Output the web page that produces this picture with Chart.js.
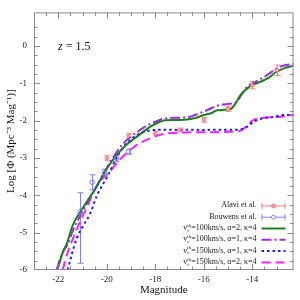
<!DOCTYPE html>
<html><head><meta charset="utf-8">
<script src="https://cdn.jsdelivr.net/npm/chart.js@4/dist/chart.umd.min.js"></script>
<style>html,body{margin:0;padding:0;background:#fff}</style>
</head><body>
<canvas id="c" width="300" height="300" style="width:300px;height:300px"></canvas>
<script>
// ---- data ----
const greenMag = [-22.03,-21.9,-21.8,-21.65,-21.4,-21.0,-20.7,-20.4,-20.2,-19.75,-19.2,-18.8,-18.5,-18.2,-17.8,-17.6,-17.0,-16.7,-16.3,-16.0,-15.7,-15.45,-14.9,-14.7,-14.5,-14.1,-13.7,-13.3,-13.05,-12.7,-12.3];
const greenPhi = [-6,-5.7,-5.5,-5.3,-4.8,-4.35,-4.05,-3.75,-3.5,-3.05,-2.65,-2.45,-2.3,-2.16,-2.03,-1.99,-1.98,-1.97,-1.92,-1.85,-1.8,-1.72,-1.69,-1.55,-1.33,-1.08,-0.97,-0.84,-0.71,-0.6,-0.53];
const purpleMag = [-22.07,-21.9,-21.75,-21.6,-21.4,-21.1,-20.8,-20.5,-20.2,-19.8,-19.3,-18.8,-18.4,-18.0,-17.6,-17.0,-16.5,-16.1,-15.8,-15.45,-15.0,-14.65,-14.4,-14.2,-13.9,-13.65,-13.3,-13.0,-12.7,-12.3];
const purplePhi = [-6,-5.65,-5.45,-5.3,-4.95,-4.55,-4.2,-3.85,-3.5,-3.05,-2.6,-2.33,-2.15,-2.03,-1.94,-1.92,-1.88,-1.78,-1.7,-1.6,-1.55,-1.5,-1.25,-1.08,-0.98,-0.88,-0.74,-0.6,-0.52,-0.48];
const blueMag = [-21.61,-21.45,-21.24,-20.97,-20.69,-20.41,-20.2,-19.93,-19.6,-19.31,-19.0,-18.62,-18.3,-18.07,-17.5,-17.0,-16.5,-16.0,-15.5,-15.0,-14.56,-14.21,-13.94,-13.6,-13.12,-12.7,-12.3];
const bluePhi = [-6,-5.6,-5.16,-4.81,-4.5,-4.01,-3.75,-3.44,-3.0,-2.7,-2.5,-2.34,-2.27,-2.25,-2.24,-2.25,-2.24,-2.25,-2.24,-2.24,-2.24,-2.16,-2.03,-1.94,-1.9,-1.85,-1.85];
const magentaMag = [-21.82,-21.65,-21.45,-21.2,-20.9,-20.41,-20.1,-19.86,-19.4,-18.76,-18.21,-17.8,-17.52,-17.0,-16.5,-16.0,-15.5,-15.0,-14.7,-14.42,-14.21,-13.94,-13.53,-12.97,-12.3];
const magentaPhi = [-6,-5.6,-5.25,-4.85,-4.43,-3.75,-3.5,-3.35,-3.0,-2.65,-2.47,-2.38,-2.34,-2.32,-2.31,-2.31,-2.31,-2.3,-2.29,-2.25,-2.12,-1.98,-1.92,-1.9,-1.85];

const alaviMag = [-20.0,-19.1,-18.0,-17.0,-16.0,-15.0,-14.0,-13.0];
const alaviPhi = [-3.0,-2.4,-2.33,-2.25,-1.98,-1.68,-1.05,-0.65];
const alaviErr = [0.06,0.06,0.05,0.05,0.06,0.07,0.1,0.14];
const bouwensMag = [-21.1,-20.6,-20.1,-19.6,-19.1];
const bouwensPhi = [-4.44,-3.65,-3.4,-3.02,-2.83];
const bouwensErrUp = [0.51,0.2,0.1,0.08,0.07];
const bouwensErrDn = [1.38,0.2,0.1,0.08,0.07];

const xTickStep = 0.5, xLabelStep = 2;
const yTickStep = 0.25, yLabelStep = 1;
const legendLabels = ['Alavi et al.','Bouwens et al.',
  ['100km/s, \u03b1=2, \u03ba=4'],['100km/s, \u03b1=1, \u03ba=4'],['150km/s, \u03b1=1, \u03ba=4'],['150km/s, \u03b1=2, \u03ba=4']];

const pts = (xs, ys) => xs.map((x, i) => ({x, y: ys[i]}));
const SERIF = 'Liberation Serif';

const curveDS = (label, xs, ys, color, dash, order) => ({
  label, data: pts(xs, ys), showLine: true, borderColor: color, backgroundColor: color,
  borderWidth: 2, borderDash: dash, pointRadius: 0, cubicInterpolationMode: 'monotone', order
});

const datasets = [
  {label:'Alavi et al.', data: pts(alaviMag, alaviPhi), errUp: alaviErr, errDn: alaviErr,
   pointStyle:'circle', pointRadius: 1.8, backgroundColor:'#f8a0a0', borderColor:'#f58080', borderWidth:1, showLine:false, order:0},
  {label:'Bouwens et al.', data: pts(bouwensMag, bouwensPhi), errUp: bouwensErrUp, errDn: bouwensErrDn,
   pointStyle:'circle', pointRadius: 2.3, backgroundColor:'rgba(255,255,255,0)', borderColor:'#8080f0', borderWidth:1, showLine:false, order:1},
  curveDS('g', greenMag, greenPhi, '#1e7d1e', [], 2),
  curveDS('p', purpleMag, purplePhi, '#9a2ee6', [10,3,2,3], 3),
  curveDS('b', blueMag, bluePhi, '#1c1cff', [2.5,3], 4),
  curveDS('m', magentaMag, magentaPhi, '#ff1eff', [9,5], 5),
];

const isMult = (v, s) => Math.abs(v / s - Math.round(v / s)) < 1e-6;

const frameTicks = {
  id: 'frameTicks',
  afterDatasetsDraw(chart) {
    const {ctx, chartArea: a, scales: {x, y}} = chart;
    ctx.save();
    ctx.strokeStyle = '#8a8a8a';
    ctx.lineWidth = 1;
    ctx.strokeRect(a.left + 0.5, a.top + 0.5, a.right - a.left - 1, a.bottom - a.top - 1);
    ctx.beginPath();
    x.ticks.forEach(t => {
      if (t.value <= x.min + 1e-6 || t.value >= x.max - 1e-6) return;
      const px = Math.round(x.getPixelForValue(t.value)) + 0.5;
      const len = isMult(t.value, xLabelStep) ? 6 : 3.5;
      ctx.moveTo(px, a.bottom); ctx.lineTo(px, a.bottom - len);
      ctx.moveTo(px, a.top); ctx.lineTo(px, a.top + len);
    });
    y.ticks.forEach(t => {
      if (t.value <= y.min + 1e-6 || t.value >= y.max - 1e-6) return;
      const py = Math.round(y.getPixelForValue(t.value)) + 0.5;
      const len = isMult(t.value, yLabelStep) ? 6 : 3.5;
      ctx.moveTo(a.left, py); ctx.lineTo(a.left + len, py);
      ctx.moveTo(a.right, py); ctx.lineTo(a.right - len, py);
    });
    ctx.stroke();
    ctx.restore();
  }
};

const errorBars = {
  id: 'errorBars',
  beforeDatasetsDraw(chart) {
    const {ctx, scales: {x, y}} = chart;
    ctx.save();
    chart.data.datasets.forEach(ds => {
      if (!ds.errUp) return;
      ctx.strokeStyle = ds.borderColor; ctx.lineWidth = 1;
      ctx.beginPath();
      ds.data.forEach((p, i) => {
        const px = Math.round(x.getPixelForValue(p.x)) + 0.5;
        const y1 = y.getPixelForValue(p.y + ds.errUp[i]);
        const y2 = y.getPixelForValue(p.y - ds.errDn[i]);
        ctx.moveTo(px, y1); ctx.lineTo(px, y2);
        ctx.moveTo(px - 3, y1); ctx.lineTo(px + 3, y1);
        ctx.moveTo(px - 3, y2); ctx.lineTo(px + 3, y2);
      });
      ctx.stroke();
    });
    ctx.restore();
  }
};

const annot = {
  id: 'annot',
  afterDraw(chart) {
    const {ctx, chartArea: a} = chart;
    ctx.save();
    ctx.fillStyle = '#111';
    ctx.textBaseline = 'middle';
    // z = 1.5
    ctx.font = 'italic 12px ' + SERIF;
    ctx.textAlign = 'left';
    const zx = a.left + 24, zy = a.top + 34;
    ctx.fillText('z', zx, zy);
    const zw = ctx.measureText('z').width;
    ctx.font = '12px ' + SERIF;
    ctx.fillText(' = 1.5', zx + zw, zy);

    // legend
    const xr = a.right - 37, s0 = a.right - 32, s1 = a.right - 8;
    const rowY = i => a.top + 193 + i * 11.3;
    const fs = 8;
    datasets.forEach((ds, i) => {
      const yy = rowY(i);
      const lab = legendLabels[i];
      ctx.fillStyle = '#222';
      ctx.textAlign = 'right';
      if (typeof lab === 'string') {
        ctx.font = fs + 'px ' + SERIF;
        ctx.fillText(lab, xr, yy);
      } else {
        ctx.font = fs + 'px ' + SERIF;
        const rest = '=' + lab[0];
        const wr = ctx.measureText(rest).width;
        ctx.fillText(rest, xr, yy);
        ctx.font = '5px ' + SERIF;
        const ws = Math.max(ctx.measureText('th').width, ctx.measureText('c').width);
        ctx.textAlign = 'left';
        ctx.fillText('th', xr - wr - ws, yy - 2.5);
        ctx.fillText('c', xr - wr - ws, yy + 2.5);
        ctx.font = fs + 'px ' + SERIF;
        ctx.textAlign = 'right';
        ctx.fillText('v', xr - wr - ws, yy);
      }
      ctx.strokeStyle = ds.borderColor;
      if (ds.errUp) {
        ctx.lineWidth = 1;
        ctx.beginPath();
        ctx.moveTo(s0, yy + 0.5); ctx.lineTo(s1, yy + 0.5);
        ctx.moveTo(s0 + 0.5, yy - 2.5); ctx.lineTo(s0 + 0.5, yy + 3.5);
        ctx.moveTo(s1 - 0.5, yy - 2.5); ctx.lineTo(s1 - 0.5, yy + 3.5);
        ctx.stroke();
        ctx.beginPath();
        ctx.arc((s0 + s1) / 2, yy + 0.5, 2, 0, Math.PI * 2);
        ctx.fillStyle = ds.errUp === alaviErr ? '#f8a0a0' : '#fff';
        ctx.fill(); ctx.stroke();
      } else {
        ctx.lineWidth = 2;
        ctx.setLineDash(ds.borderDash);
        ctx.beginPath();
        ctx.moveTo(s0, yy + 0.5); ctx.lineTo(s1, yy + 0.5);
        ctx.stroke();
        ctx.setLineDash([]);
      }
    });
    ctx.restore();
  }
};

new Chart(document.getElementById('c'), {
  type: 'scatter',
  data: {datasets},
  options: {
    responsive: false, animation: false, devicePixelRatio: 1,
    layout: {padding: {top: 9.5, right: 6.5, left: 0, bottom: 0}},
    plugins: {legend: {display: false}, tooltip: {enabled: false}},
    scales: {
      x: {
        type: 'linear', min: -23, max: -12.3,
        afterFit: s => { s.height = 30; },
        grid: {display: false, drawTicks: false},
        border: {display: false},
        ticks: {stepSize: xTickStep, autoSkip: false, maxRotation: 0, padding: 4,
          color: '#222', font: {family: SERIF, size: 9},
          callback: v => isMult(v, xLabelStep) ? String(Math.round(v)) : ''},
        title: {display: true, text: 'Magnitude', color: '#111', font: {family: SERIF, size: 11}, padding: {top: 0, bottom: 3}}
      },
      y: {
        type: 'linear', min: -6, max: 0.9,
        afterFit: s => { s.width = 34; },
        grid: {display: false, drawTicks: false},
        border: {display: false},
        ticks: {stepSize: yTickStep, autoSkip: false, padding: 7,
          color: '#222', font: {family: SERIF, size: 9},
          callback: v => isMult(v, yLabelStep) ? String(Math.round(v)) : ''},
        title: {display: true, text: 'Log [\u03a6 (Mpc\u207b\u00b3 Mag\u207b\u00b9)]', color: '#111', font: {family: SERIF, size: 11}, padding: {top: 5, bottom: 0}}
      }
    }
  },
  plugins: [frameTicks, errorBars, annot]
});
</script>
</body></html>
